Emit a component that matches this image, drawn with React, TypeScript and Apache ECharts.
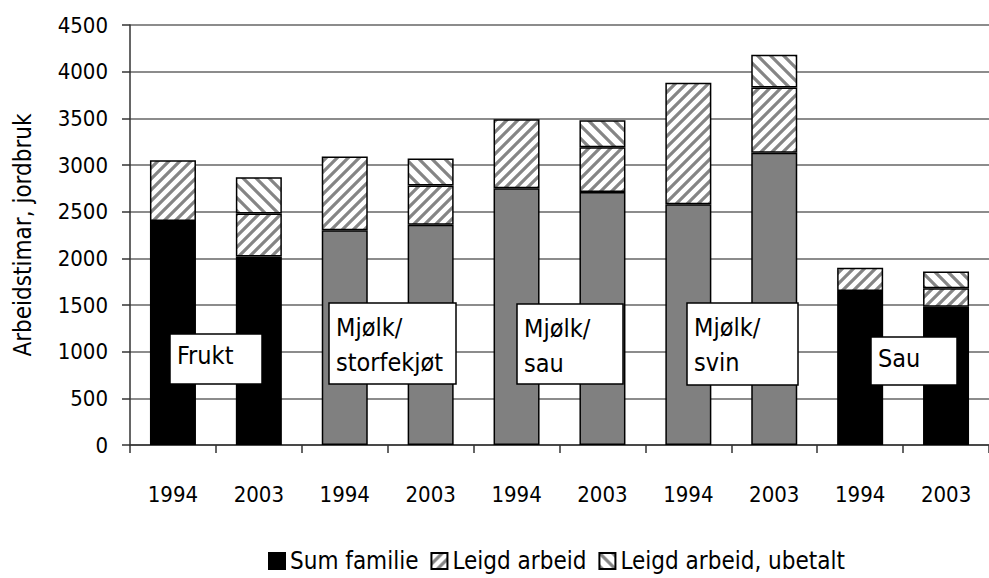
import React, { useEffect, useRef } from 'react';
import * as echarts from 'echarts';

// ---- data ----
const groups = ['Frukt', 'Mjølk/\nstorfekjøt', 'Mjølk/\nsau', 'Mjølk/\nsvin', 'Sau'];
const years = ['1994', '2003'];
const categories = groups.flatMap(() => years);
const groupColors = ['#000000', '#808080', '#808080', '#808080', '#000000'];
const sumFamilie = [2400, 2020, 2300, 2360, 2750, 2710, 2580, 3130, 1650, 1480];
const leigdArbeid = [650, 460, 790, 420, 740, 480, 1300, 700, 250, 200];
const leigdUbetalt = [null, 390, null, 290, null, 290, null, 350, null, 180];
const seriesNames = ['Sum familie', 'Leigd arbeid', 'Leigd arbeid, ubetalt'];
const yTicks = { min: 0, max: 4500, interval: 500 };
const yTitle = 'Arbeidstimar, jordbruk';

// ---- layout of annotation boxes (pixels) ----
const boxLayout = [
  { x: 170, y: 334, w: 92, h: 50 },
  { x: 329, y: 303, w: 127, h: 81 },
  { x: 517, y: 304, w: 106, h: 80 },
  { x: 687, y: 303, w: 111, h: 82 },
  { x: 871, y: 337, w: 86, h: 48 },
];

const FONT = '"DejaVu Sans Condensed", "Liberation Sans", Arial, sans-serif';

function makeHatch(dir: 'fwd' | 'back', size: number, width: number) {
  const c = document.createElement('canvas');
  c.width = size;
  c.height = size;
  const ctx = c.getContext('2d')!;
  ctx.fillStyle = '#ffffff';
  ctx.fillRect(0, 0, size, size);
  ctx.strokeStyle = '#858585';
  ctx.lineWidth = width;
  ctx.lineCap = 'square';
  const s = size;
  ctx.beginPath();
  if (dir === 'fwd') {
    ctx.moveTo(0, s); ctx.lineTo(s, 0);
    ctx.moveTo(-s / 2, s / 2); ctx.lineTo(s / 2, -s / 2);
    ctx.moveTo(s / 2, s * 1.5); ctx.lineTo(s * 1.5, s / 2);
  } else {
    ctx.moveTo(0, 0); ctx.lineTo(s, s);
    ctx.moveTo(-s / 2, s / 2); ctx.lineTo(s / 2, s * 1.5);
    ctx.moveTo(s / 2, -s / 2); ctx.lineTo(s * 1.5, s / 2);
  }
  ctx.stroke();
  return c;
}

export default function App() {
  const ref = useRef<HTMLDivElement>(null);
  useEffect(() => {
    if (!ref.current) return;
    const chart = echarts.init(ref.current, null, { renderer: 'svg' });
    const fwd = makeHatch('fwd', 11, 3.2);
    const back = makeHatch('back', 13, 3.2);
    const border = { borderColor: '#000', borderWidth: 1.5 };

    const graphic: any[] = boxLayout.map((b, i) => {
      const lines = groups[i].split('\n').length;
      return {
        type: 'group',
        children: [
          {
            type: 'rect',
            shape: { x: b.x, y: b.y, width: b.w, height: b.h },
            style: { fill: '#ffffff', stroke: '#000000', lineWidth: 1.5 },
            z: 100,
          },
          {
            type: 'text',
            x: b.x + 7,
            y: b.y + (lines === 2 ? 7 : 4),
            z: 101,
            style: {
              text: groups[i],
              font: `25px ${FONT}`,
              fill: '#000',
              lineHeight: 35,
              verticalAlign: 'top',
              align: 'left',
            },
          },
        ],
      };
    });

    chart.setOption({
      animation: false,
      textStyle: { fontFamily: FONT },
      grid: { left: 130, top: 25, width: 860, height: 420, containLabel: false },
      legend: {
        left: 268,
        top: 549,
        padding: 0,
        itemWidth: 16,
        itemHeight: 16,
        itemGap: 12,
        icon: 'rect',
        textStyle: { fontSize: 24, lineHeight: 24, color: '#000', fontFamily: FONT },
        data: seriesNames,
      },
      xAxis: {
        type: 'category',
        data: categories,
        axisLine: { lineStyle: { color: '#333', width: 1.5 } },
        axisTick: { show: true, length: 8, lineStyle: { color: '#333', width: 1.5 } },
        axisLabel: { fontSize: 22, color: '#000', margin: 38, fontFamily: FONT, interval: 0 },
        splitLine: { show: false },
      },
      yAxis: {
        type: 'value',
        min: yTicks.min,
        max: yTicks.max,
        interval: yTicks.interval,
        name: yTitle,
        nameLocation: 'middle',
        nameGap: 95,
        nameTextStyle: { fontSize: 24, color: '#000', fontFamily: FONT },
        axisLine: { show: true, lineStyle: { color: '#333', width: 1.5 } },
        axisTick: { show: true, length: 8, lineStyle: { color: '#333', width: 1.5 } },
        axisLabel: {
          fontSize: 22,
          color: '#000',
          margin: 22,
          fontFamily: FONT,
          formatter: (v: number) => String(v),
        },
        splitLine: { show: true, lineStyle: { color: '#8c8c8c', width: 2 } },
      },
      series: [
        {
          name: seriesNames[0],
          type: 'bar',
          stack: 'total',
          barWidth: 46,
          itemStyle: { color: '#000', ...border },
          data: sumFamilie.map((v, i) => ({
            value: v,
            itemStyle: { color: groupColors[Math.floor(i / years.length)] },
          })),
        },
        {
          name: seriesNames[1],
          type: 'bar',
          stack: 'total',
          barWidth: 46,
          itemStyle: { color: { image: fwd, repeat: 'repeat' }, ...border },
          data: leigdArbeid,
        },
        {
          name: seriesNames[2],
          type: 'bar',
          stack: 'total',
          barWidth: 46,
          itemStyle: { color: { image: back, repeat: 'repeat' }, ...border },
          data: leigdUbetalt,
        },
      ],
      graphic,
    });
    return () => chart.dispose();
  }, []);
  return (
    <div
      ref={ref}
      style={{ position: 'absolute', left: 0, top: 0, width: 989, height: 578, background: '#fff' }}
    />
  );
}
